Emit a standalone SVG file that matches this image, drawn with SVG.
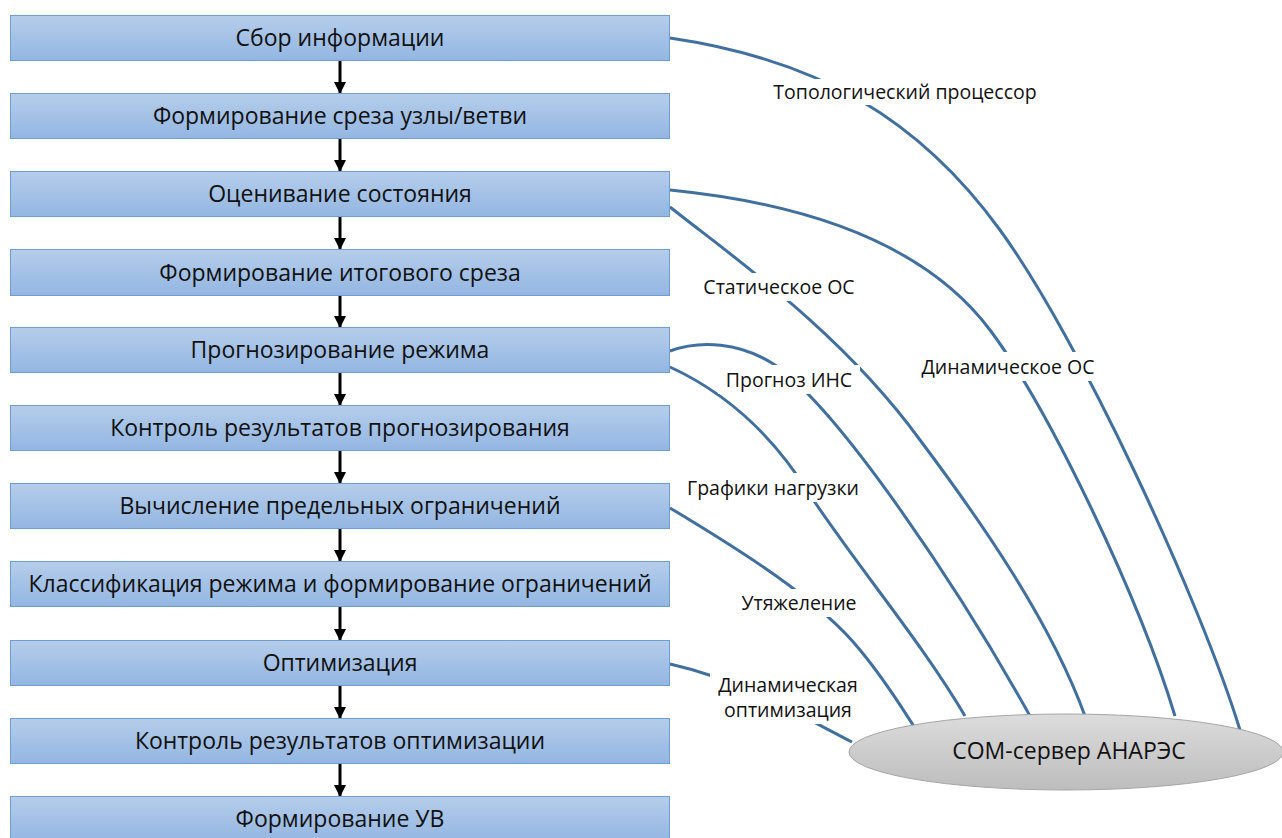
<svg xmlns="http://www.w3.org/2000/svg" width="1282" height="838" viewBox="0 0 1282 838">
  <defs>
    <linearGradient id="boxFill" x1="0" y1="0" x2="0" y2="1">
      <stop offset="0" stop-color="#b5cdea"/>
      <stop offset="1" stop-color="#93b6e2"/>
    </linearGradient>
    <linearGradient id="srvFill" x1="0" y1="0" x2="0" y2="1">
      <stop offset="0" stop-color="#dcdcdc"/>
      <stop offset="1" stop-color="#bdbdbd"/>
    </linearGradient>
    <marker id="arrow" viewBox="0 0 12 12" refX="11" refY="6" markerWidth="12" markerHeight="12" markerUnits="userSpaceOnUse" orient="auto">
      <path d="M0,0 L12,6 L0,12 Z" fill="#000"/>
    </marker>
    <style>
      .box { fill: url(#boxFill); stroke: #6e9dd6; stroke-width: 1; }
      .btxt { font-family: "Open Sans", "Liberation Sans", sans-serif; font-size: 23px; fill: #111; text-anchor: middle; }
      .flow { stroke: #000; stroke-width: 3; fill: none; marker-end: url(#arrow); }
      .link { stroke: #41709f; stroke-width: 3; fill: none; }
      .lbg { fill: #fff; }
      .ltxt { font-family: "Open Sans", "Liberation Sans", sans-serif; font-size: 19.5px; fill: #111; text-anchor: middle; }
      .srv { fill: url(#srvFill); stroke: #a5a5a5; stroke-width: 1; }
      .stxt { font-family: "Open Sans", "Liberation Sans", sans-serif; font-size: 23px; fill: #111; text-anchor: middle; }
    </style>
  </defs>

  <rect width="1282" height="838" fill="#fff"/>

  <!-- links from process steps to the COM server -->
  <g id="connectors">
    <path class="link" d="M670,38 C820,60 920,120 1000,230 C1080,340 1200,600 1240,730"/>
    <path class="link" d="M670,190 C820,205 930,250 990,330 C1050,410 1140,600 1175,716"/>
    <path class="link" d="M670,207 C730,255 840,330 920,440 C980,520 1050,620 1085,716"/>
    <path class="link" d="M670,351 C700,340 740,342 775,365 C840,410 960,590 1030,716"/>
    <path class="link" d="M670,367 C720,390 770,430 810,495 C860,570 920,640 965,716"/>
    <path class="link" d="M670,508 C740,550 820,600 860,650 C885,680 900,705 915,728"/>
    <path class="link" d="M670,664 C740,680 790,710 852,742"/>

    <!-- vertical flow arrows -->
    <line class="flow" x1="340" y1="60" x2="340" y2="93"/>
    <line class="flow" x1="340" y1="138" x2="340" y2="171"/>
    <line class="flow" x1="340" y1="216" x2="340" y2="249"/>
    <line class="flow" x1="340" y1="295" x2="340" y2="327"/>
    <line class="flow" x1="340" y1="373" x2="340" y2="405"/>
    <line class="flow" x1="340" y1="451" x2="340" y2="483"/>
    <line class="flow" x1="340" y1="529" x2="340" y2="561"/>
    <line class="flow" x1="340" y1="607" x2="340" y2="640"/>
    <line class="flow" x1="340" y1="686" x2="340" y2="718"/>
    <line class="flow" x1="340" y1="764" x2="340" y2="796"/>
  </g>

  <!-- link labels -->
  <g id="labels">
    <rect class="lbg" x="764" y="79" width="282" height="26"/>
    <text class="ltxt" x="905" y="99">Топологический процессор</text>
    <rect class="lbg" x="697" y="273" width="166" height="28"/>
    <text class="ltxt" x="779" y="294">Статическое ОС</text>
    <rect class="lbg" x="913" y="352" width="190" height="29"/>
    <text class="ltxt" x="1008" y="374">Динамическое ОС</text>
    <rect class="lbg" x="718" y="365" width="142" height="29"/>
    <text class="ltxt" x="789" y="387">Прогноз ИНС</text>
    <rect class="lbg" x="680" y="473" width="188" height="29"/>
    <text class="ltxt" x="773" y="495">Графики нагрузки</text>
    <rect class="lbg" x="734" y="589" width="131" height="28"/>
    <text class="ltxt" x="799" y="610">Утяжеление</text>
    <rect class="lbg" x="710" y="670" width="156" height="54"/>
    <text class="ltxt" x="788" y="692">Динамическая</text>
    <text class="ltxt" x="788" y="717">оптимизация</text>
  </g>

  <g id="step-1"><rect class="box" x="10.5" y="15.5" width="659" height="45"/><text class="btxt" x="340" y="46">Сбор информации</text></g>
  <g id="step-2"><rect class="box" x="10.5" y="93.5" width="659" height="45"/><text class="btxt" x="340" y="124">Формирование среза узлы/ветви</text></g>
  <g id="step-3"><rect class="box" x="10.5" y="171.5" width="659" height="45"/><text class="btxt" x="340" y="202">Оценивание состояния</text></g>
  <g id="step-4"><rect class="box" x="10.5" y="249.5" width="659" height="46"/><text class="btxt" x="340" y="281">Формирование итогового среза</text></g>
  <g id="step-5"><rect class="box" x="10.5" y="327.5" width="659" height="45"/><text class="btxt" x="340" y="358">Прогнозирование режима</text></g>
  <g id="step-6"><rect class="box" x="10.5" y="405.5" width="659" height="45"/><text class="btxt" x="340" y="436">Контроль результатов прогнозирования</text></g>
  <g id="step-7"><rect class="box" x="10.5" y="483.5" width="659" height="45"/><text class="btxt" x="340" y="514">Вычисление предельных ограничений</text></g>
  <g id="step-8"><rect class="box" x="10.5" y="561.5" width="659" height="45"/><text class="btxt" x="340" y="592">Классификация режима и формирование ограничений</text></g>
  <g id="step-9"><rect class="box" x="10.5" y="640.5" width="659" height="45"/><text class="btxt" x="340" y="671">Оптимизация</text></g>
  <g id="step-10"><rect class="box" x="10.5" y="718.5" width="659" height="45"/><text class="btxt" x="340" y="749">Контроль результатов оптимизации</text></g>
  <g id="step-11"><rect class="box" x="10.5" y="796.5" width="659" height="45"/><text class="btxt" x="340" y="827">Формирование УВ</text></g>

  <g id="com-server">
    <ellipse class="srv" cx="1066" cy="752" rx="217" ry="38"/>
    <text class="stxt" x="1069" y="759">COM-сервер АНАРЭС</text>
  </g>
</svg>
